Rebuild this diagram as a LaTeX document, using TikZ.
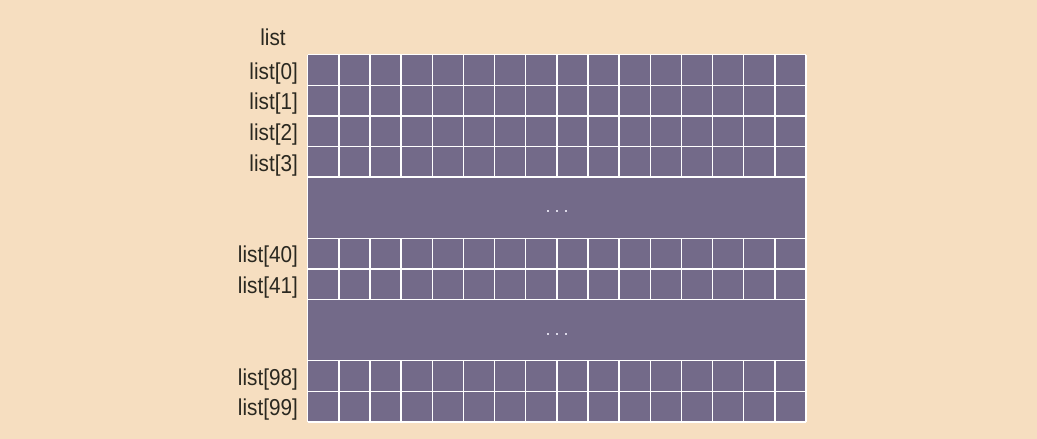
\documentclass[tikz,border=0pt]{standalone}
\usepackage{fontspec}
\setmainfont{Liberation Sans}[FakeStretch=0.9]
\definecolor{bg}{HTML}{F6DEC0}
\definecolor{cellc}{HTML}{736A89}
\definecolor{ink}{HTML}{2A2820}
\definecolor{dotc}{HTML}{DCD8E8}
\begin{document}
\begin{tikzpicture}[x=1pt,y=-1pt,
  lbl/.style={anchor=base east, text=ink, font=\fontsize{23}{25}\selectfont, inner sep=0pt},
  gridline/.style={white, line width=1.5pt},
  gapdot/.style={fill=dotc}]
\fill[bg] (0,0) rectangle (1037,439);
\useasboundingbox (0,0) rectangle (1037,439);
\def\xa{307.7}
\def\xb{806}
\def\ya{54.7}
\def\rh{30.6}
\def\cw{31.14375}
% array body
\fill[cellc] (\xa,\ya) rectangle (\xb,{\ya+12*\rh});
% horizontal lines
\foreach \k in {0,1,2,3,4,6,7,8,10,11,12}
  \draw[gridline] (\xa,{\ya+\k*\rh}) -- (\xb,{\ya+\k*\rh});
% vertical lines in the data segments
\foreach \s/\e in {0/4,6/8,10/12}
  \foreach \i in {0,...,16}
    \draw[gridline] ({\xa+\i*\cw},{\ya+\s*\rh}) -- ({\xa+\i*\cw},{\ya+\e*\rh});
% outer border along the gap blocks
\draw[gridline] (\xa,\ya) -- (\xa,{\ya+12*\rh});
\draw[gridline] (\xb,\ya) -- (\xb,{\ya+12*\rh});
% ellipsis dots
\foreach \g/\yy in {1/210.7,2/333.5}
  \foreach \d in {-9,0,9}
    \fill[gapdot] ({556.8+\d-1},{\yy-1}) rectangle ++(2,2);
% labels
\node[lbl, anchor=base] (toplabel) at (273,45.7) {list};
\foreach \r/\t in {0/0,1/1,2/2,3/3,6/40,7/41,10/98,11/99}
  \node[lbl] (lab\t) at (298,{\ya+\r*\rh+\rh/2+9.3}) {list[\t]};
\end{tikzpicture}
\end{document}
